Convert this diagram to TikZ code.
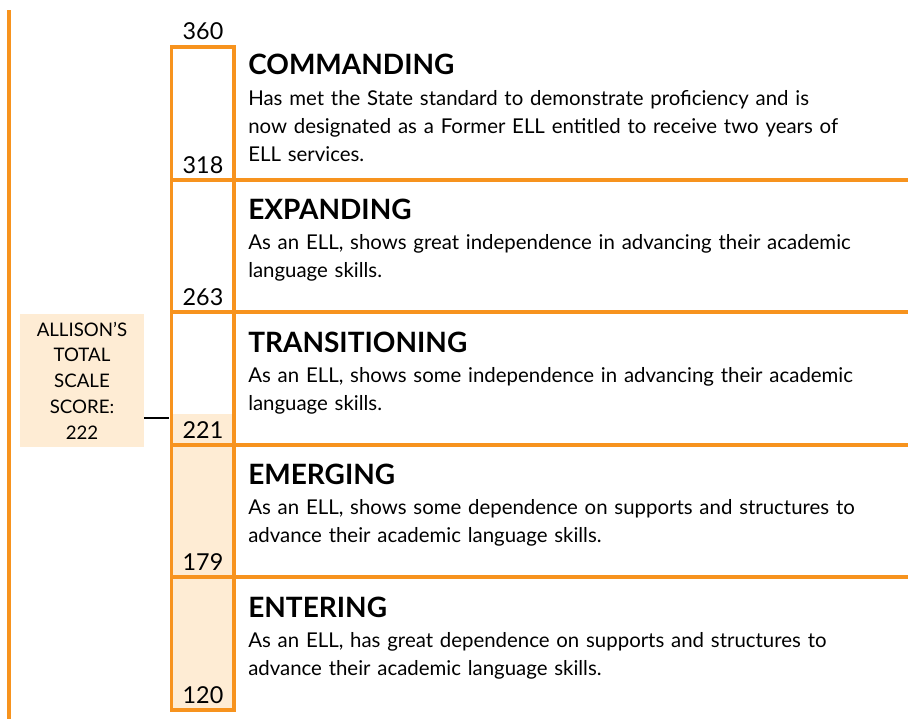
\documentclass[tikz,border=0pt]{standalone}
\usepackage{fontspec}
\setmainfont{Lato}
\usetikzlibrary{positioning}
\definecolor{BandOrange}{RGB}{247,147,30}
\definecolor{SoftCream}{RGB}{254,236,212}
\tikzset{
  band/.style={draw=BandOrange,line width=2.6pt},
  level/.style={anchor=base west,inner sep=0pt,
    font=\fontsize{21}{24}\selectfont\bfseries},
  desc/.style={anchor=base west,inner sep=0pt,align=left,text width=16cm,
    font=\fontsize{15.3}{21}\selectfont},
  cut/.style={anchor=base,inner sep=0pt,font=\fontsize{17.5}{20}\selectfont},
  tag/.style={fill=SoftCream,minimum width=93pt,minimum height=99.75pt,
    inner sep=0pt,align=center,font=\fontsize{14}{19.3}\selectfont},
  pointer/.style={draw=black,line width=1.6pt}
}

\begin{document}
\begin{tikzpicture}[x=0.75pt,y=-0.75pt]
  \useasboundingbox (0,0) rectangle (908,719);
  % score fill and scale bar
  \fill[SoftCream] (171.5,414) rectangle (234,710);
  \draw[band,line width=2.3pt] (9,10) -- (9,719);
  \draw[band] (171.5,47) rectangle (234,710);
  \draw[band] (171.5,180) -- (908,180);
  \draw[band] (171.5,312) -- (908,312);
  \draw[band] (171.5,445) -- (908,445);
  \draw[band] (171.5,577) -- (908,577);
  \coordinate (s222) at (169,418);

  % cut scores
  \node[cut] (c360) at (203,39.5) {360};
  \node[cut] (c318) at (203,173) {318};
  \node[cut] (c263) at (203,305) {263};
  \node[cut] (c221) at (203,438) {221};
  \node[cut] (c179) at (203,570) {179};
  \node[cut] (c120) at (203,703) {120};

  % levels
  \node[level] (cmdT) at (248,74.5) {COMMANDING};
  \node[desc] (cmdD) at ([yshift=-23pt]cmdT.base west)
    {Has met the State standard to demonstrate proficiency and is\\
     now designated as a Former ELL entitled to receive two years of\\
     ELL services.};
  \node[level] (expT) at (248,219.5) {EXPANDING};
  \node[desc] (expD) at ([yshift=-22.5pt]expT.base west)
    {As an ELL, shows great independence in advancing their academic\\
     language skills.};
  \node[level] (traT) at (248,352) {TRANSITIONING};
  \node[desc] (traD) at ([yshift=-22.5pt]traT.base west)
    {As an ELL, shows some independence in advancing their academic\\
     language skills.};
  \node[level] (emeT) at (248,484.5) {EMERGING};
  \node[desc] (emeD) at ([yshift=-22.5pt]emeT.base west)
    {As an ELL, shows some dependence on supports and structures to\\
     advance their academic language skills.};
  \node[level] (entT) at (248,617) {ENTERING};
  \node[desc] (entD) at ([yshift=-22.5pt]entT.base west)
    {As an ELL, has great dependence on supports and structures to\\
     advance their academic language skills.};

  % student score
  \node[tag] (score) at (82,380.5) {ALLISON’S\\TOTAL\\SCALE\\SCORE:\\222};
  \draw[pointer] (score.east |- s222) -- (s222);
\end{tikzpicture}
\end{document}
